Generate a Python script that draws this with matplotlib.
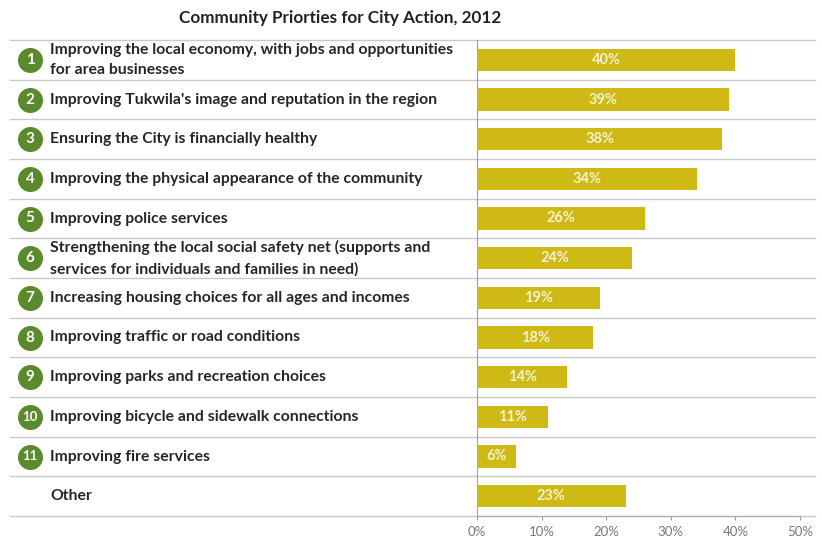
import matplotlib
matplotlib.use('Agg')

import matplotlib.pyplot as plt
import matplotlib.transforms as mtransforms

plt.rcParams['font.family'] = ['Lato', 'DejaVu Sans']

TITLE = "Community Priorties for City Action, 2012"

labels = [
    "Improving the local economy, with jobs and opportunities\nfor area businesses",
    "Improving Tukwila's image and reputation in the region",
    "Ensuring the City is financially healthy",
    "Improving the physical appearance of the community",
    "Improving police services",
    "Strengthening the local social safety net (supports and\nservices for individuals and families in need)",
    "Increasing housing choices for all ages and incomes",
    "Improving traffic or road conditions",
    "Improving parks and recreation choices",
    "Improving bicycle and sidewalk connections",
    "Improving fire services",
    "Other",
]
numbers = ["1", "2", "3", "4", "5", "6", "7", "8", "9", "10", "11", ""]
values = [40, 39, 38, 34, 26, 24, 19, 18, 14, 11, 6, 23]
xticks = [0, 10, 20, 30, 40, 50]

bar_color = '#CFB914'
circle_color = '#5A8A2C'
line_color = '#C8C8C8'

W, H = 822, 540
fig = plt.figure(figsize=(W / 100, H / 100), dpi=100)
fig.patch.set_facecolor('white')

# axes: 0% at x=477, 50% at x=800; rows from y=40 to y=516
ax = fig.add_axes([477 / W, 1 - 516 / H, (800 - 477) / W, (516 - 40) / H])
ys = list(range(len(values)))
ax.barh(ys, values, height=0.56, color=bar_color, zorder=3)
ax.set_xlim(0, 50)
ax.set_ylim(len(values) - 0.5, -0.5)

for y, v in zip(ys, values):
    ax.text(v / 2, y, f"{v}%", ha='center', va='center', color='#F7F2CF',
            fontsize=10.5, fontweight='bold', zorder=4)

ax.set_xticks(xticks)
ax.set_xticklabels([f"{t}%" for t in xticks], color='#777777', fontsize=9.5)
ax.tick_params(axis='x', length=3, color='#999999', pad=4)
ax.set_yticks([])
for s in ['top', 'right']:
    ax.spines[s].set_visible(False)
ax.spines['left'].set_color('#9A9AAA')
ax.spines['bottom'].set_color('#AAAAAA')

# row separator lines across the whole figure
trans = mtransforms.blended_transform_factory(fig.transFigure, ax.transData)
for y in [-0.5] + [y + 0.5 for y in ys]:
    ax.plot([10 / W, 815 / W], [y, y], transform=trans, color=line_color,
            lw=1, clip_on=False, zorder=1)

for y, lab, num in zip(ys, labels, numbers):
    ax.text(50 / W, y, lab, transform=trans, ha='left', va='center',
            fontsize=11.3, fontweight='bold', color='#262626', linespacing=1.6)
    if num:
        ax.plot([30 / W], [y], marker='o', markersize=17, color=circle_color,
                transform=trans, clip_on=False, zorder=5)
        ax.text(30 / W, y, num, transform=trans, ha='center', va='center',
                fontsize=11 if len(num) == 1 else 9.5, color='white', zorder=6,
                fontweight='bold')

fig.text(340 / W, 1 - 18 / H, TITLE, ha='center', va='center',
         fontsize=12.3, fontweight='bold', color='#222222')

fig.savefig('out.png', dpi=100)
